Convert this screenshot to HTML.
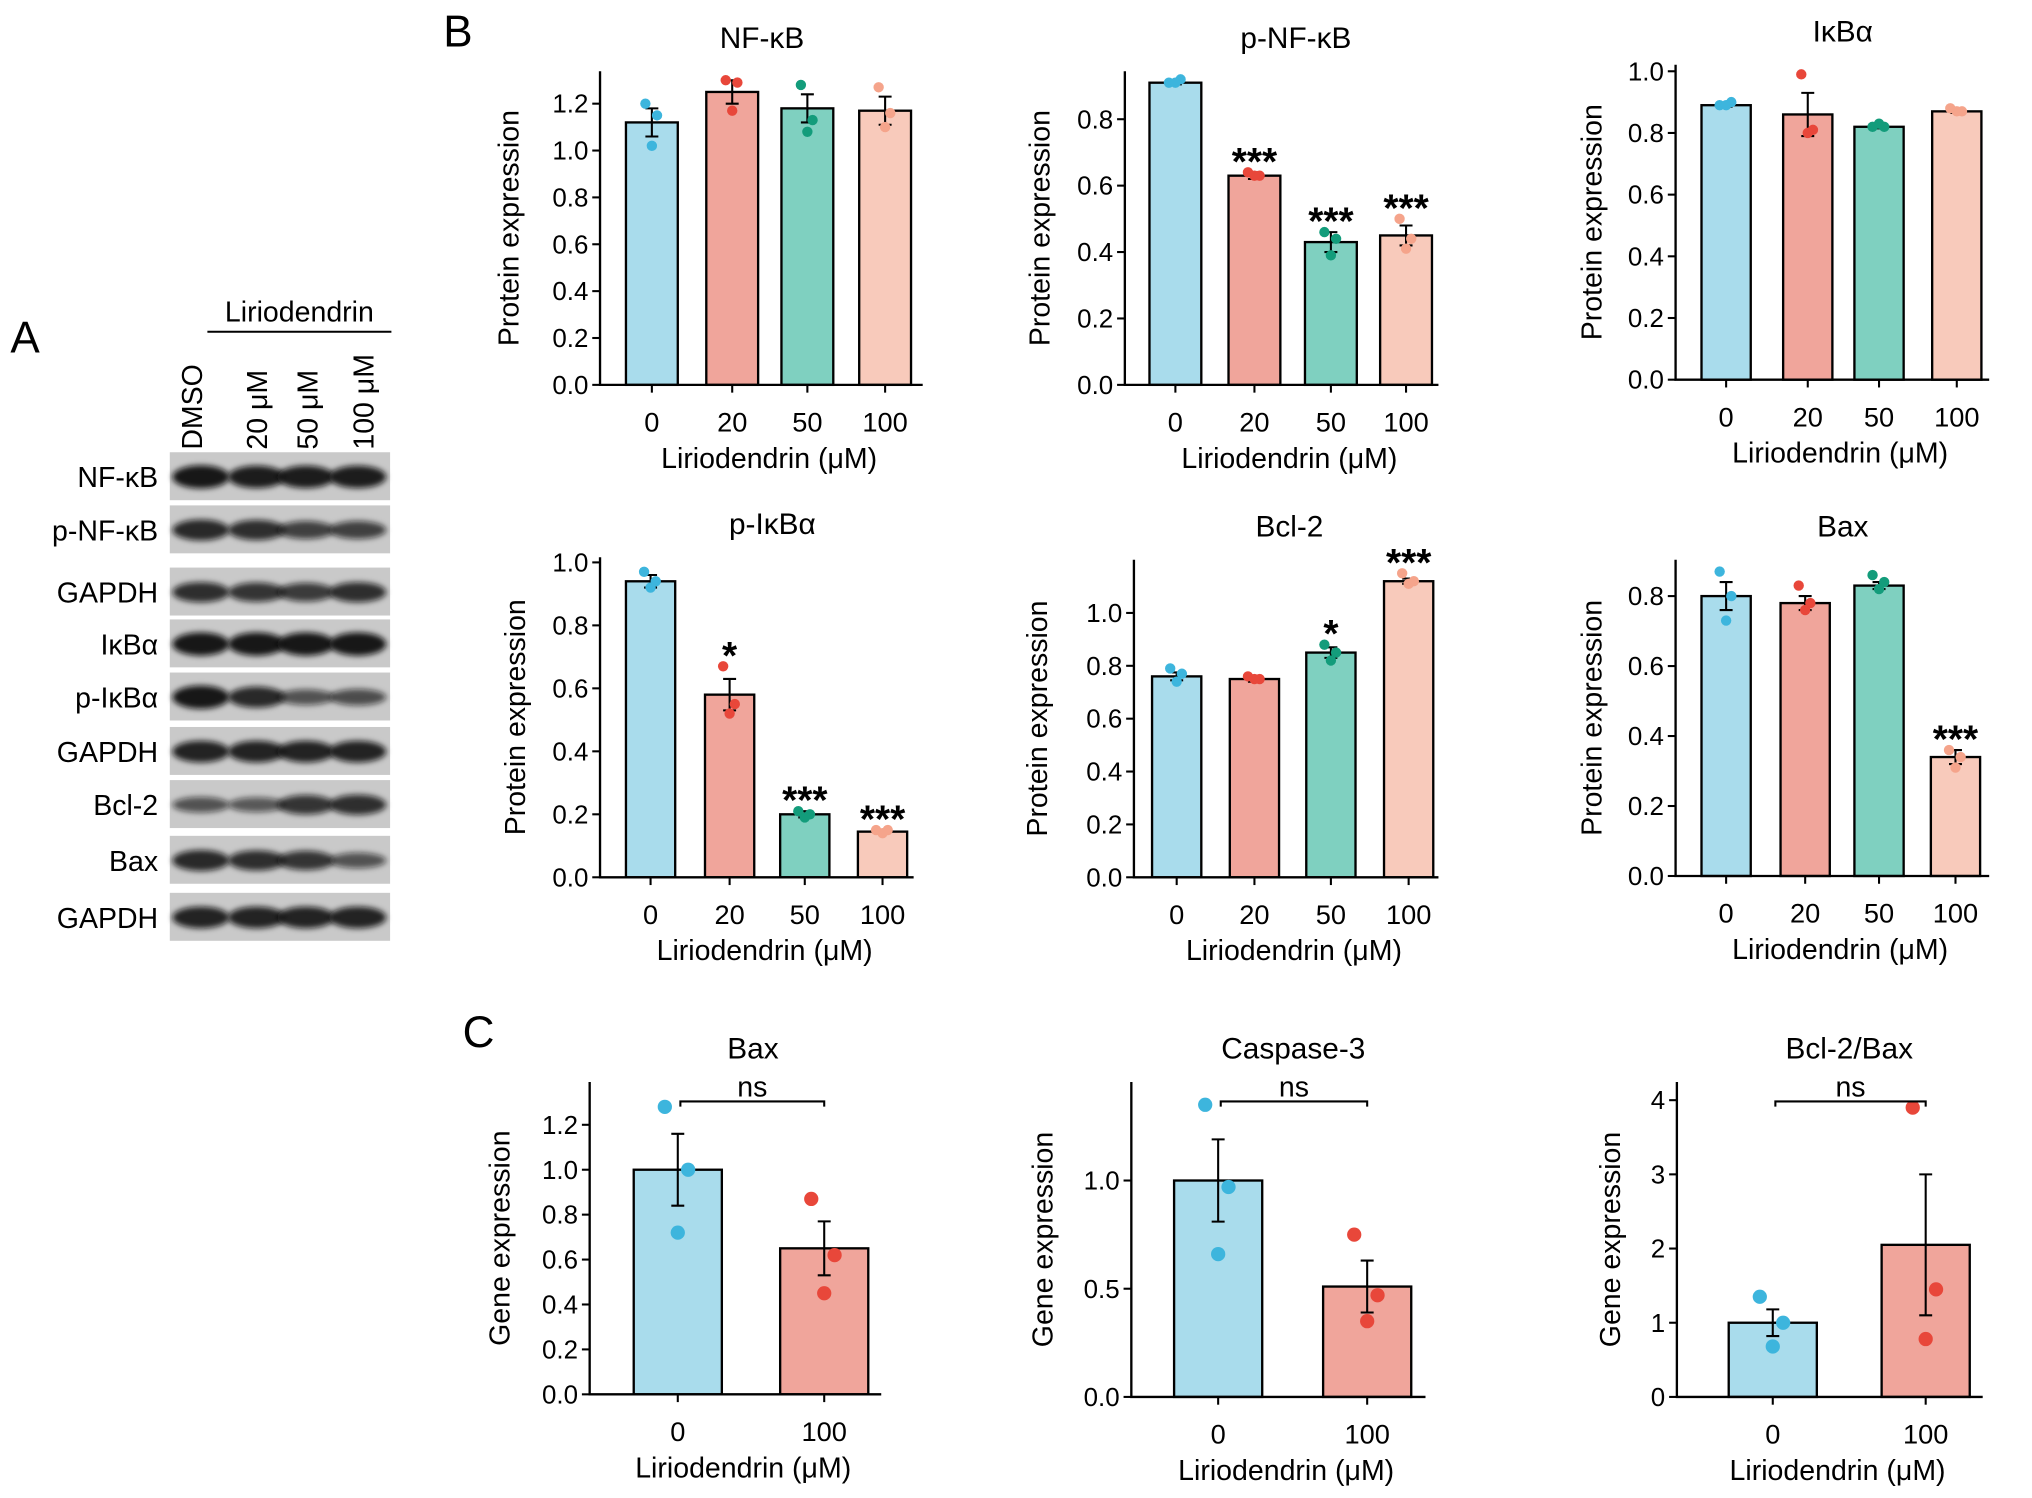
<!DOCTYPE html>
<html><head><meta charset="utf-8"><style>
html,body{margin:0;padding:0;background:#fff;}
svg{display:block;font-family:"Liberation Sans",Arial,sans-serif;}
</style></head>
<body>
<svg id="fig" width="2032" height="1498" viewBox="0 0 1568 1156" xmlns="http://www.w3.org/2000/svg">
<defs><filter id="blur" x="-20%" y="-50%" width="140%" height="200%"><feGaussianBlur stdDeviation="2.2"/></filter></defs>
<text x="8" y="272" font-size="34">A</text>
<text x="342" y="36" font-size="34">B</text>
<text x="357" y="808" font-size="34">C</text>
<g id="blot"></g>
<g id="charts"></g>
</svg>
<script>
const NS="http://www.w3.org/2000/svg";
function mk(tag,attrs,parent,text){const e=document.createElementNS(NS,tag);for(const k in attrs)e.setAttribute(k,attrs[k]);if(text!==undefined)e.textContent=text;parent.appendChild(e);return e;}

const blotRows=["NF-κB","p-NF-κB","GAPDH","IκBα","p-IκBα","GAPDH","Bcl-2","Bax","GAPDH"];
const blotIntensity=[[1,0.95,0.95,0.95],[0.85,0.8,0.65,0.65],[0.8,0.75,0.7,0.8],[1,1,1,1],[1,0.85,0.5,0.55],[0.9,0.9,0.9,0.9],[0.5,0.45,0.75,0.8],[0.85,0.8,0.75,0.5],[0.9,0.9,0.9,0.9]];
const blotLanes=["DMSO","20 μM","50 μM","100 μM"];
const blot=document.getElementById('blot');
const rowY=[368,409,457,497,538,580,621,664,708];
const laneX=[155,198,236,276];
blotRows.forEach((name,i)=>{
  const y=rowY[i];
  const r=mk('rect',{x:131,y:y-19,width:170,height:37,fill:'#c9c9c9'},blot);
  
  
  const t=mk('text',{x:122,y:y+8,'font-size':22,'text-anchor':'end'},blot,name);
  
  
  blotIntensity[i].forEach((v,j)=>{
    const b=mk('ellipse',{cx:laneX[j],cy:y,rx:22,ry:3+6*v,fill:'#111','fill-opacity':0.35+0.6*v,filter:'url(#blur)'},blot);
    
    
  });
});
blotLanes.forEach((l,j)=>{
  const t=mk('text',{transform:`translate(${[156,206,245,288][j]},347) rotate(-90)`,'font-size':22},blot,l);
  
  
});
const lt=mk('text',{x:231,y:248,'font-size':22,'text-anchor':'middle'},blot,'Liriodendrin');


const ll=mk('line',{x1:160,x2:302,y1:256,y2:256,stroke:'#000','stroke-width':1.5},blot);



const cats4=["0","20","50","100"];
const cats2=["0","100"];
const nfkbMeans=[1.12,1.25,1.18,1.17], nfkbSem=[0.06,0.05,0.06,0.06], nfkbPts=[[1.2,1.15,1.02],[1.3,1.29,1.17],[1.28,1.13,1.08],[1.27,1.16,1.1]], nfkbStars=["","","",""];
const pnfkbMeans=[0.91,0.63,0.43,0.45], pnfkbSem=[0.005,0.01,0.03,0.03], pnfkbPts=[[0.91,0.92,0.91],[0.64,0.63,0.63],[0.46,0.44,0.39],[0.5,0.44,0.41]], pnfkbStars=["","***","***","***"];
const ikbaMeans=[0.89,0.86,0.82,0.87], ikbaSem=[0.005,0.07,0.005,0.005], ikbaPts=[[0.89,0.9,0.89],[0.99,0.81,0.8],[0.82,0.82,0.83],[0.88,0.87,0.87]], ikbaStars=["","","",""];
const pikbaMeans=[0.94,0.58,0.2,0.145], pikbaSem=[0.02,0.05,0.01,0.005], pikbaPts=[[0.97,0.94,0.92],[0.67,0.55,0.52],[0.21,0.2,0.19],[0.15,0.15,0.14]], pikbaStars=["","*","***","***"];
const bcl2Means=[0.76,0.75,0.85,1.12], bcl2Sem=[0.015,0.01,0.02,0.01], bcl2Pts=[[0.79,0.77,0.74],[0.76,0.75,0.75],[0.88,0.85,0.82],[1.15,1.12,1.11]], bcl2Stars=["","","*","***"];
const baxMeans=[0.8,0.78,0.83,0.34], baxSem=[0.04,0.02,0.01,0.02], baxPts=[[0.87,0.8,0.73],[0.83,0.78,0.76],[0.86,0.84,0.82],[0.36,0.34,0.31]], baxStars=["","","","***"];
const gBaxMeans=[1.0,0.65], gBaxSem=[0.16,0.12], gBaxPts=[[1.28,1.0,0.72],[0.87,0.62,0.45]];
const gCasMeans=[1.0,0.51], gCasSem=[0.19,0.12], gCasPts=[[1.35,0.97,0.66],[0.75,0.47,0.35]];
const gRatioMeans=[1.0,2.05], gRatioSem=[0.18,0.95], gRatioPts=[[1.35,1.0,0.68],[3.9,1.45,0.78]];
const ticks12=[0,0.2,0.4,0.6,0.8,1.0,1.2], ticks08=[0,0.2,0.4,0.6,0.8], ticks10=[0,0.2,0.4,0.6,0.8,1.0], ticksCas=[0,0.5,1.0], ticksRatio=[0,1,2,3,4];

const barFill=["#a9dcec","#f0a59b","#7fd0c0","#f8cabb"];
const dotFill=["#3db5dd","#e8473a","#139c7b","#f5a48b"];

const charts=[
 {id:'nfkb',title:'NF-κB',cats:cats4,m:nfkbMeans,s:nfkbSem,p:nfkbPts,st:nfkbStars,ticks:ticks12,dec:1,ax:463,y0:297,ty:80,tv:1.2,top:55,xc:[503,565,623,683],bw:40,xend:712,cx:588,ylab:'Protein expression',ylx:400,fills:[0,1,2,3]},
 {id:'pnfkb',title:'p-NF-κB',cats:cats4,m:pnfkbMeans,s:pnfkbSem,p:pnfkbPts,st:pnfkbStars,ticks:ticks08,dec:1,ax:868,y0:297,ty:92,tv:0.8,top:55,xc:[907,968,1027,1085],bw:40,xend:1110,cx:1000,ylab:'Protein expression',ylx:810,fills:[0,1,2,3]},
 {id:'ikba',title:'IκBα',cats:cats4,m:ikbaMeans,s:ikbaSem,p:ikbaPts,st:ikbaStars,ticks:ticks10,dec:1,ax:1293,y0:293,ty:55,tv:1.0,top:50,xc:[1332,1395,1450,1510],bw:38,xend:1535,cx:1422,ylab:'Protein expression',ylx:1236,fills:[0,1,2,3]},
 {id:'pikba',title:'p-IκBα',cats:cats4,m:pikbaMeans,s:pikbaSem,p:pikbaPts,st:pikbaStars,ticks:ticks10,dec:1,ax:463,y0:677,ty:434,tv:1.0,top:430,xc:[502,563,621,681],bw:38,xend:705,cx:596,ylab:'Protein expression',ylx:405,fills:[0,1,2,3]},
 {id:'bcl2',title:'Bcl-2',cats:cats4,m:bcl2Means,s:bcl2Sem,p:bcl2Pts,st:bcl2Stars,ticks:ticks10,dec:1,ax:875,y0:677,ty:473,tv:1.0,top:432,xc:[908,968,1027,1087],bw:38,xend:1110,cx:995,ylab:'Protein expression',ylx:808,fills:[0,1,2,3]},
 {id:'bax',title:'Bax',cats:cats4,m:baxMeans,s:baxSem,p:baxPts,st:baxStars,ticks:ticks08,dec:1,ax:1293,y0:676,ty:460,tv:0.8,top:432,xc:[1332,1393,1450,1509],bw:38,xend:1535,cx:1422,ylab:'Protein expression',ylx:1236,fills:[0,1,2,3]},
 {id:'gbax',title:'Bax',cats:cats2,m:gBaxMeans,s:gBaxSem,p:gBaxPts,st:null,ticks:ticks12,dec:1,ax:455,y0:1076,ty:868,tv:1.2,top:835,xc:[523,636],bw:68,xend:680,cx:581,ylab:'Gene expression',ylx:393,fills:[0,1],ns:850},
 {id:'gcas',title:'Caspase-3',cats:cats2,m:gCasMeans,s:gCasSem,p:gCasPts,st:null,ticks:ticksCas,dec:1,ax:873,y0:1078,ty:911,tv:1.0,top:835,xc:[940,1055],bw:68,xend:1100,cx:998,ylab:'Gene expression',ylx:812,fills:[0,1],ns:850},
 {id:'gratio',title:'Bcl-2/Bax',cats:cats2,m:gRatioMeans,s:gRatioSem,p:gRatioPts,st:null,ticks:ticksRatio,dec:0,ax:1294,y0:1078,ty:849,tv:4,top:835,xc:[1368,1486],bw:68,xend:1530,cx:1427,ylab:'Gene expression',ylx:1250,fills:[0,1],ns:850}
];
const jit=[-5,4,0];
const root=document.getElementById('charts');
charts.forEach(c=>{
  const g=mk('g',{},root);
  
  
  const ys=v=>c.y0-(v/c.tv)*(c.y0-c.ty);
  const tt=mk('text',{x:c.cx,y:c.top-18,'font-size':23,'text-anchor':'middle'},g,c.title);
  
  
  c.m.forEach((v,i)=>{
    const x=c.xc[i];
    const b=mk('rect',{x:x-c.bw/2,y:ys(v),width:c.bw,height:c.y0-ys(v),fill:barFill[c.fills[i]],stroke:'#000','stroke-width':1.8},g);
    
    
    const hi=ys(v+c.s[i]),lo=ys(v-c.s[i]);
    const e=mk('path',{d:`M${x},${hi}V${lo}M${x-5},${hi}H${x+5}M${x-5},${lo}H${x+5}`,stroke:'#000','stroke-width':1.6,fill:'none'},g);
    
    
    c.p[i].forEach((pv,k)=>{
      const d=mk('circle',{cx:x+jit[k]*(c.bw>50?2:1),cy:ys(pv),r:c.bw>50?5.5:4,fill:dotFill[c.fills[i]]},g);
      
      
    });
    if(c.st&&c.st[i]){
      const top=Math.max(...c.p[i],v+c.s[i]);
      const s=mk('text',{x:x,y:ys(top)+2,'font-size':30,'font-weight':'bold','text-anchor':'middle'},g,c.st[i]);
      
      
    }
    const xl=mk('text',{x:x,y:c.y0+36,'font-size':21,'text-anchor':'middle'},g,c.cats[i]);
    
    
    const tk=mk('line',{x1:x,x2:x,y1:c.y0,y2:c.y0+6,stroke:'#000','stroke-width':1.6},g);
    
    
  });
  c.ticks.forEach(t=>{
    const y=ys(t);
    const tk=mk('line',{x1:c.ax-6,x2:c.ax,y1:y,y2:y,stroke:'#000','stroke-width':1.6},g);
    
    
    const tl=mk('text',{x:c.ax-9,y:y+7,'font-size':20,'text-anchor':'end'},g,t.toFixed(c.dec));
    
    
  });
  const axl=mk('path',{d:`M${c.ax},${c.top}V${c.y0}H${c.xend}`,stroke:'#000','stroke-width':1.8,fill:'none'},g);
  
  
  const xt=mk('text',{x:(c.ax+c.xend)/2+6,y:c.y0+64,'font-size':22,'text-anchor':'middle'},g,'Liriodendrin (μM)');
  
  
  const yt=mk('text',{transform:`translate(${c.ylx},${(c.top+c.y0)/2}) rotate(-90)`,'font-size':22,'text-anchor':'middle'},g,c.ylab);
  
  
  if(c.ns){
    const x1=c.xc[0]+2,x2=c.xc[1];
    const br=mk('path',{d:`M${x1},${c.ns+4}V${c.ns}H${x2}V${c.ns+4}`,stroke:'#000','stroke-width':1.6,fill:'none'},g);
    
    
    const nt=mk('text',{x:(x1+x2)/2,y:c.ns-4,'font-size':22,'text-anchor':'middle'},g,'ns');
    
    
  }
});
</script>
</body></html>
